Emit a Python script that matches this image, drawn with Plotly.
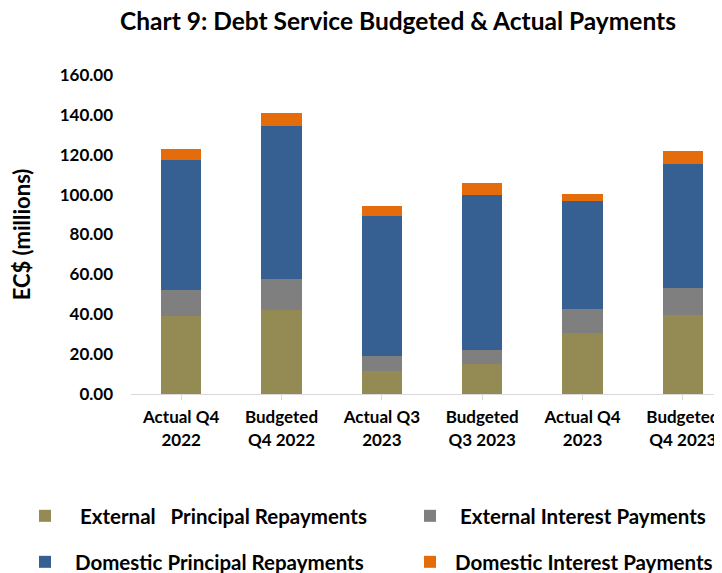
import plotly.graph_objects as go

categories = ["Actual Q4<br>2022", "Budgeted<br>Q4 2022", "Actual Q3<br>2023",
              "Budgeted<br>Q3 2023", "Actual Q4<br>2023", "Budgeted<br>Q4 2023"]
ext_principal = [39.1, 42.3, 11.5, 15.2, 30.4, 39.6]
ext_interest = [12.9, 15.2, 7.7, 7.0, 12.2, 13.7]
dom_principal = [65.5, 77.1, 70.2, 77.7, 54.3, 61.9]
dom_interest = [5.2, 6.5, 5.0, 6.1, 3.6, 6.8]

NB = "\u00a0"
W, H = 714, 565  # page body has an 8px margin inside the 722x573 window

series = [
    (NB * 3 + "External" + NB * 2 + " Principal Repayments", ext_principal, "#948A54", "legend"),
    (NB * 2 + "External Interest Payments", ext_interest, "#7F7F7F", "legend2"),
    (NB * 2 + "Domestic Principal Repayments", dom_principal, "#366092", "legend3"),
    (NB * 1 + "Domestic Interest Payments", dom_interest, "#E46C0A", "legend4"),
]

FONT = "Lato"
fig = go.Figure()
for name, vals, color, lg in series:
    fig.add_trace(go.Bar(x=list(range(len(categories))), y=vals, name=name,
                         marker=dict(color=color, line=dict(width=0)),
                         width=0.4, legend=lg, showlegend=True))

legend_common = dict(orientation="h", traceorder="normal", visible=True,
                     font=dict(family=FONT, size=20.5, color="black", weight="bold"),
                     bgcolor="rgba(0,0,0,0)", xanchor="left", yanchor="middle",
                     xref="container", yref="container",
                     itemclick=False, itemdoubleclick=False)

col1, col2 = 17 / W, 402 / W
row1, row2 = 1 - 508 / H, 1 - 554 / H

fig.update_layout(
    width=W, height=H,
    showlegend=True,
    margin=dict(l=123, r=0, t=67, b=179, autoexpand=False),
    plot_bgcolor="white", paper_bgcolor="white",
    barmode="stack",
    title=dict(text="Chart 9: Debt Service Budgeted & Actual Payments",
               x=390 / W, xanchor="center", y=1 - 13.5 / H, yanchor="middle",
               font=dict(family=FONT, size=24.5, color="black", weight="bold")),
    legend=dict(x=col1, y=row1, **legend_common),
    legend2=dict(x=col2, y=row1, **legend_common),
    legend3=dict(x=col1, y=row2, **legend_common),
    legend4=dict(x=col2, y=row2, **legend_common),
    xaxis=dict(range=[-0.5, 5.39], tickmode="array",
               tickvals=list(range(len(categories))), ticktext=categories,
               showline=True, linecolor="#D9D9D9", linewidth=1,
               ticks="outside", tickson="boundaries", ticklen=5, tickcolor="#D9D9D9",
               showgrid=False, zeroline=False, ticklabelstandoff=3,
               tickfont=dict(family=FONT, size=17, color="black", weight="bold")),
    yaxis=dict(range=[0, 160], dtick=20, tickformat=".2f", showgrid=False,
               zeroline=False, showline=False, ticks="", ticklabelstandoff=17,
               tickfont=dict(family=FONT, size=17, color="black", weight="bold"),
               title=dict(text="EC$ (millions)", standoff=27,
                          font=dict(family=FONT, size=22, color="black", weight="bold"))),
)

fig.write_html("out.html")
